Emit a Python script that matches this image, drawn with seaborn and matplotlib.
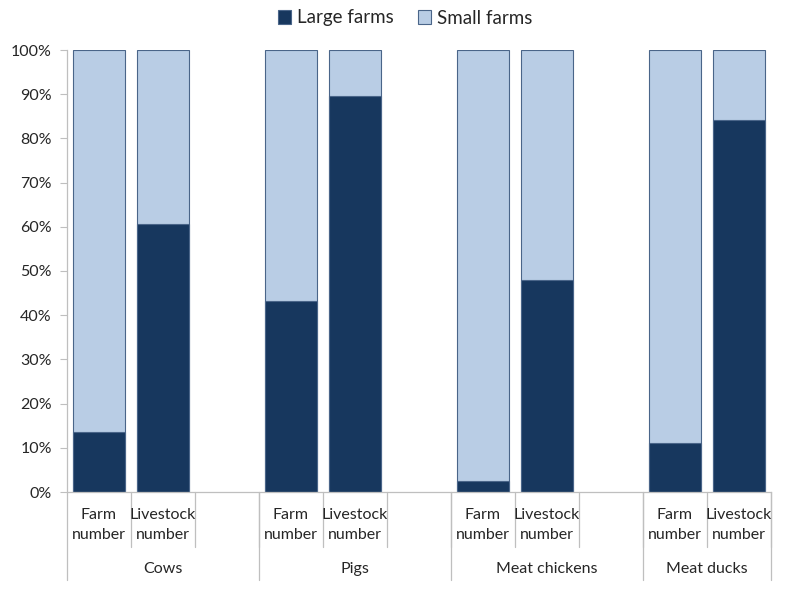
import matplotlib
matplotlib.use("Agg")
import matplotlib.pyplot as plt
import matplotlib.transforms as mtransforms
import numpy as np
import pandas as pd
import seaborn as sns

# data (% share of large farms)
animals = ["Cows", "Pigs", "Meat chickens", "Meat ducks"]
measures = ["Farm number", "Livestock number"]
large_share = [13.6, 60.6, 43.2, 89.6, 2.5, 48.0, 11.1, 84.2]
total_share = [100, 100, 100, 100, 100, 100, 100, 100]
tick_labels = ["Farm\nnumber", "Livestock\nnumber"]

DARK = "#17375E"
LIGHT = "#B9CDE5"
EDGE = "#4A6589"
GRID = "#BFBFBF"
TEXT = "#262626"
FS = 11.5

sns.set_style("white")
plt.rcParams["font.family"] = ["Lato", "DejaVu Sans"]

rows = []
for i, a in enumerate(animals):
    for j, m in enumerate(measures):
        k = i * 2 + j
        rows.append({"slot": f"{a}|{m}", "large": large_share[k], "total": total_share[k]})
df = pd.DataFrame(rows)

# slot order with an empty gap after each group (except the last)
order = []
for i, a in enumerate(animals):
    order += [f"{a}|{m}" for m in measures]
    if i < len(animals) - 1:
        order.append(f"{a}|gap")

fig = plt.figure(figsize=(7.86, 5.97), dpi=100)
ax = fig.add_axes([67 / 786, 1 - 492 / 597, (771 - 67) / 786, (492 - 50) / 597])

sns.barplot(data=df, x="slot", y="total", order=order, color=LIGHT, saturation=1,
            edgecolor=EDGE, linewidth=0.8, width=0.8, ax=ax, label="Small farms")
sns.barplot(data=df, x="slot", y="large", order=order, color=DARK, saturation=1,
            edgecolor=EDGE, linewidth=0.8, width=0.8, ax=ax, label="Large farms")
handles, labels = ax.get_legend_handles_labels()
if ax.get_legend() is not None:
    ax.get_legend().remove()

ax.set_xlim(-0.5, len(order) - 0.5)
ax.set_ylim(0, 100)
ax.set_yticks(np.arange(0, 101, 10))
ax.set_yticklabels([f"{v}%" for v in range(0, 101, 10)], fontsize=FS, color=TEXT)
ax.tick_params(axis="y", length=5, width=0.8, color=GRID, left=True, pad=6)
ax.set_xlabel("")
ax.set_ylabel("")
ax.set_xticks([])
for s in ["top", "right"]:
    ax.spines[s].set_visible(False)
for s in ["left", "bottom"]:
    ax.spines[s].set_color(GRID)
    ax.spines[s].set_linewidth(0.9)

trans = mtransforms.blended_transform_factory(ax.transData, ax.transAxes)
px = 1 / (492 - 50)  # one pixel in axes-fraction units

# category labels and separators
for pos, name in enumerate(order):
    a, m = name.split("|")
    if m != "gap":
        ax.text(pos, -33 * px, tick_labels[measures.index(m)], transform=trans,
                ha="center", va="center", fontsize=FS, color=TEXT, linespacing=1.6)
    ax.plot([pos + 0.5, pos + 0.5], [0, -55 * px], transform=trans, color=GRID,
            lw=0.9, clip_on=False)

start = -0.5
for i, a in enumerate(animals):
    n = 2 if i == len(animals) - 1 else 3
    end = start + n
    ax.plot([start, start], [0, -88 * px], transform=trans, color=GRID, lw=0.9, clip_on=False)
    ax.text((start + end) / 2, -77 * px, a, transform=trans, ha="center", va="center",
            fontsize=FS, color=TEXT)
    start = end
ax.plot([start, start], [0, -88 * px], transform=trans, color=GRID, lw=0.9, clip_on=False)

leg_order = [labels.index("Large farms"), labels.index("Small farms")]
fig.legend([handles[k] for k in leg_order], [labels[k] for k in leg_order],
           loc="center", bbox_to_anchor=(405 / 786, 1 - 18 / 597), ncol=2, frameon=False,
           fontsize=13.5, handlelength=0.7, handleheight=0.7, handletextpad=0.3,
           columnspacing=1.3)

fig.savefig("out.png", dpi=100)
